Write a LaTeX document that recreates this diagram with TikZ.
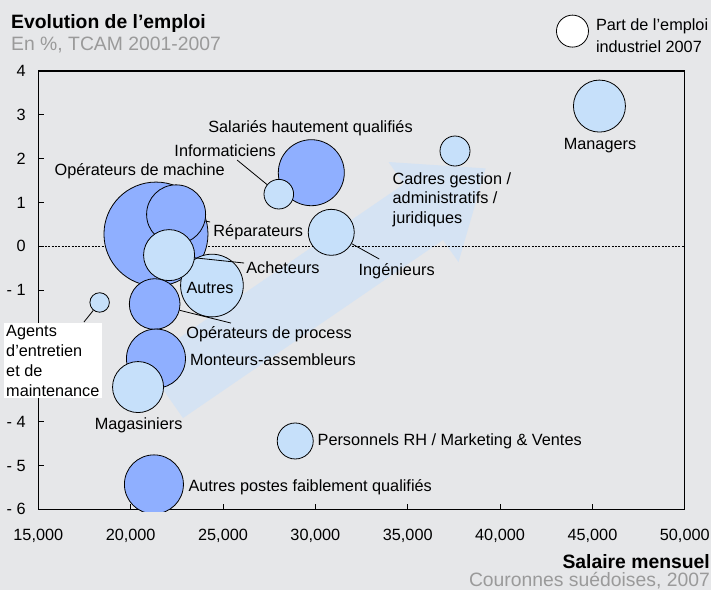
\documentclass[tikz,border=0pt]{standalone}
\usepackage{fontspec}
\setmainfont{Liberation Sans}
\definecolor{bgcol}{HTML}{E6E7E9}
\definecolor{darkbub}{HTML}{8FAFFF}
\definecolor{lightbub}{HTML}{C6E0FA}
\definecolor{arrowcol}{HTML}{D5E3F3}
\definecolor{subgray}{HTML}{9A9A9A}
\begin{document}
\begin{tikzpicture}[x=13.85pt, y=32.87pt,
    bubdark/.style={circle, draw, fill=darkbub, inner sep=0pt, line width=0.6pt},
    bublight/.style={circle, draw, fill=lightbub, inner sep=0pt, line width=0.6pt},
    lbl/.style={inner sep=0pt, font=\fontsize{12.2}{14.8}\selectfont},
    bigtxt/.style={inner sep=0pt, font=\fontsize{14.5}{17}\selectfont}]
				% Background and box
				\useasboundingbox (12.926,-7.841) rectangle (51.42,5.62);
				\fill[bgcol] (12.926,-7.841) rectangle (51.42,5.62);
				\node[bigtxt, font=\bfseries\fontsize{14.5}{17}\selectfont, anchor=base west] (title) at (13.52,4.974) {Evolution de l’emploi};
				\node[bigtxt, text=subgray, anchor=base west] (subtitle) at (13.52,4.479) {En \%, TCAM 2001-2007};
				% Trend arrow
				\fill[arrowcol] (22.834,-3.917) -- (20.723,-2.639) -- (34.80,1.422) -- (33.96,1.924) -- (39.22,1.778) -- (37.75,-0.358) -- (36.91,0.144) -- cycle;
				\draw[dash pattern=on 1.5pt off 1pt, line width=0.4pt] (15,0) -- (50,0);
				% Draw axes
				\draw[line width=0.8pt] (15,-6) rectangle (50,4);
				\foreach \y/\t in {4/4,3/3,2/2,1/1,0/0,-1/- 1,-2/- 2,-3/- 3,-4/- 4,-5/- 5,-6/- 6}
					{\draw[line width=0.6pt] (15,\y) -- ++(4pt,0);
					 \node[lbl, anchor=east] (ylbl\y) at (14.33,\y) {\t};}
				\foreach \x in {15,20,...,50}
					{\draw[line width=0.6pt] (\x,-6) -- ++(0,4pt);
					 \node[lbl, anchor=base] (xlbl\x) at (\x,-6.72) {\x,000};}
				\node[bigtxt, font=\bfseries\fontsize{14.5}{17}\selectfont, anchor=base east] (xtitle) at (51.37,-7.34) {Salaire mensuel};
				\node[bigtxt, text=subgray, anchor=base east] (xunit) at (51.37,-7.76) {Couronnes suédoises, 2007};
				% Bubbles
				\begin{scope}
				\clip (15,-6.055) rectangle (50,4);
				\node[bubdark, minimum size=78pt] (machine) at (21.37,0.28) {};
				\node[bubdark, minimum size=44.25pt] (repar) at (22.46,0.73) {};
				\node[bublight, minimum size=47pt] (autres) at (24.40,-0.894) {};
				\node[bublight, minimum size=38.25pt] (achet) at (22.08,-0.20) {};
				\node[bubdark, minimum size=38pt] (process) at (21.30,-1.316) {};
				\node[bubdark, minimum size=44.25pt] (monteurs) at (21.37,-2.56) {};
				\node[bublight, minimum size=38.25pt] (magas) at (20.40,-3.21) {};
				\node[bublight, minimum size=14.6pt] (agents) at (18.32,-1.28) {};
				\node[bublight, minimum size=27pt] (rh) at (28.91,-4.44) {};
				\node[bubdark, minimum size=44.25pt] (faibl) at (21.26,-5.43) {};
				\node[bubdark, minimum size=49.5pt] (salar) at (29.78,1.68) {};
				\node[bublight, minimum size=22.2pt] (info) at (28.02,1.19) {};
				\node[bublight, minimum size=34.5pt] (ingen) at (30.86,0.32) {};
				\node[bublight, minimum size=22.5pt] (cadres) at (37.56,2.175) {};
				\node[bublight, minimum size=39pt] (manag) at (45.38,3.20) {};
				\end{scope}
				% Leaders
				\coordinate (infoend) at (25.76,1.97);
				\coordinate (reparend) at (24.30,0.555);
				\coordinate (achetend) at (26.14,-0.38);
				\coordinate (processend) at (25.43,-1.75);
				\coordinate (agentsend) at (17.47,-1.727);
				\coordinate (ingenend) at (33.46,-0.289);
				\draw[line width=0.6pt] (infoend) -- (info);
				\draw[line width=0.6pt] (reparend) -- (repar);
				\draw[line width=0.6pt] (achetend) -- (achet);
				\draw[line width=0.6pt] (processend) -- (process);
				\draw[line width=0.6pt] (agentsend) -- (agents);
				\draw[line width=0.6pt] (ingenend) -- (ingen);
				% Labels
				\node[lbl, anchor=west] (lsalar) at (24.19,2.69) {Salariés hautement qualifiés};
				\node[lbl, anchor=east] (linfo) at (27.87,2.18) {Informaticiens};
				\node[lbl, anchor=west] (lmachine) at (15.87,1.72) {Opérateurs de machine};
				\node[lbl, anchor=west] (lrepar) at (24.47,0.32) {Réparateurs};
				\node[lbl, anchor=west] (lachet) at (26.25,-0.488) {Acheteurs};
				\node[lbl] (lautres) at (24.30,-0.951) {Autres};
				\node[lbl, anchor=west] (lprocess) at (23.0,-2.007) {Opérateurs de process};
				\node[lbl, anchor=west] (lmonteurs) at (23.21,-2.594) {Monteurs-assembleurs};
				\node[lbl] (lmagas) at (20.43,-4.077) {Magasiniers};
				\node[lbl, font=\fontsize{12.2}{15}\selectfont, fill=white, align=left, inner xsep=2pt, inner ysep=1.5pt, anchor=north west] (lagents) at (13.105,-1.743) {Agents\\d’entretien\\et de\\maintenance};
				\node[lbl, anchor=west] (lingen) at (32.33,-0.556) {Ingénieurs};
				\node[lbl, anchor=west, align=left] (lcadres) at (34.17,1.068) {Cadres gestion /\\administratifs /\\juridiques};
				\node[lbl] (lmanag) at (45.41,2.296) {Managers};
				\node[lbl, anchor=west] (lrh) at (30.11,-4.44) {Personnels RH / Marketing \& Ventes};
				\node[lbl, anchor=west] (lfaibl) at (23.12,-5.485) {Autres postes faiblement qualifiés};
				% Legend
				\node[circle, draw, fill=white, inner sep=0pt, line width=0.6pt, minimum size=24pt] (legbub) at (43.92,4.91) {};
				\node[lbl, font=\fontsize{12.2}{16.5}\selectfont, anchor=west, align=left] (legtxt) at (45.18,4.80) {Part de l’emploi\\industriel 2007};
			\end{tikzpicture}
\end{document}
